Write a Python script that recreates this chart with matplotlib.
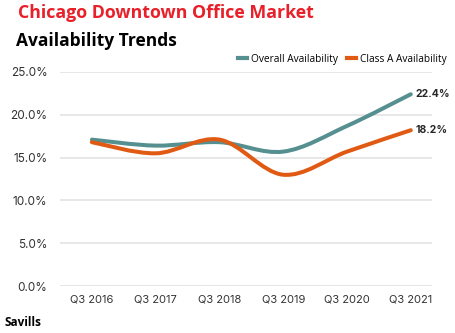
import matplotlib
matplotlib.use("Agg")
import matplotlib.pyplot as plt
from matplotlib.path import Path
from matplotlib.patches import PathPatch
from matplotlib.lines import Line2D

quarters = ["Q3 2016", "Q3 2017", "Q3 2018", "Q3 2019", "Q3 2020", "Q3 2021"]
overall = [17.1, 16.4, 16.8, 15.7, 18.7, 22.4]
class_a = [16.8, 15.5, 17.1, 13.0, 15.7, 18.2]

teal = "#568f8f"
orange = "#e05a14"


def smooth_path(xs, ys):
    # courbe de Bezier type Excel (lissage), points de controle a 1/6
    pts = list(zip(xs, ys))
    n = len(pts)
    verts = [pts[0]]
    codes = [Path.MOVETO]
    for i in range(n - 1):
        p0 = pts[i - 1] if i > 0 else pts[i]
        p1 = pts[i]
        p2 = pts[i + 1]
        p3 = pts[i + 2] if i + 2 < n else pts[i + 1]
        c1 = (p1[0] + (p2[0] - p0[0]) / 6, p1[1] + (p2[1] - p0[1]) / 6)
        c2 = (p2[0] - (p3[0] - p1[0]) / 6, p2[1] - (p3[1] - p1[1]) / 6)
        verts += [c1, c2, p2]
        codes += [Path.CURVE4] * 3
    return Path(verts, codes)


fig = plt.figure(figsize=(4.56, 3.33), dpi=100)
ax = fig.add_axes([0.1316, 0.1411, 0.8154, 0.6427])

x = list(range(len(quarters)))
for serie, col in [(overall, teal), (class_a, orange)]:
    ax.add_patch(PathPatch(smooth_path(x, serie), facecolor="none",
                           edgecolor=col, lw=2.9, capstyle="round", zorder=3))

ax.text(5.08, overall[-1], f"{overall[-1]}%", fontsize=7.5, fontweight="bold",
        color="#262626", va="center", ha="left", family="Inter")
ax.text(5.08, class_a[-1], f"{class_a[-1]}%", fontsize=7.5, fontweight="bold",
        color="#262626", va="center", ha="left", family="Inter")

ax.set_xlim(-0.5, 5.33)
ax.set_ylim(0, 25)
ax.set_yticks([0, 5, 10, 15, 20, 25])
ax.set_yticklabels([f"{v:.1f}%" for v in [0, 5, 10, 15, 20, 25]])
ax.set_xticks(x)
ax.set_xticklabels(quarters)
ax.grid(axis="y", color="#e3e3e3", lw=1.2)
ax.set_axisbelow(True)
for s in ax.spines.values():
    s.set_visible(False)
ax.tick_params(length=0, labelsize=8, colors="#333333", pad=6)
ax.tick_params(axis="y", labelsize=8.5, pad=9)
for lab in ax.get_xticklabels() + ax.get_yticklabels():
    lab.set_family("Inter")

handles = [Line2D([], [], color=teal, lw=3),
           Line2D([], [], color=orange, lw=3)]
fig.legend(handles, ["Overall Availability", "Class A Availability"],
           loc="center right", bbox_to_anchor=(1.0, 0.822), ncol=2,
           frameon=False, handlelength=0.9, handletextpad=0.4,
           columnspacing=0.9, prop={"family": "Open Sans", "size": 7.3})

fig.text(0.04, 0.96, "Chicago Downtown Office Market", color="#e8202a",
         fontsize=12.8, fontweight="bold", family="Open Sans", va="center")
fig.text(0.035, 0.877, "Availability Trends", color="black",
         fontsize=12.5, fontweight="bold", family="Open Sans", va="center")
fig.text(0.01, 0.032, "Savills", color="black", fontsize=8.5,
         fontweight="bold", family="Open Sans", va="center")

fig.savefig("out.png", dpi=100)
